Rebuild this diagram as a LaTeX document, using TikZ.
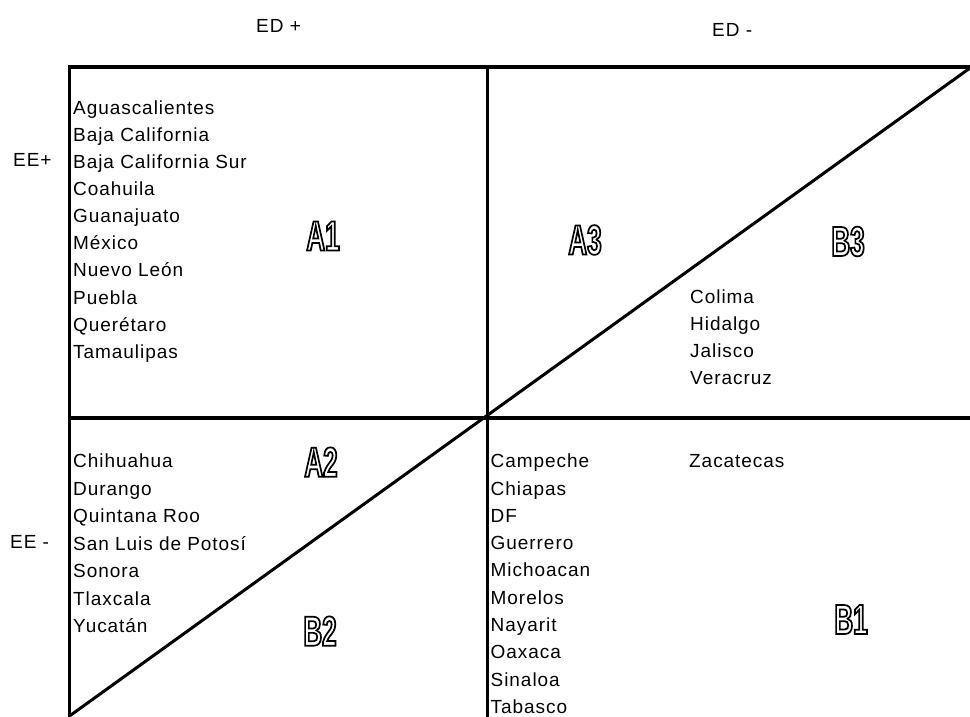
\documentclass[tikz,border=0pt]{standalone}
\usepackage{fontspec}
\setmainfont{Liberation Sans}[LetterSpace=5]
\newfontfamily\labfont{Liberation Sans Bold}[FakeStretch=0.62]
\newcommand\outlbl[1]{%
  \special{pdf:literal direct 1 Tr 1.7 w 0 G}%
  {\labfont #1}%
  \special{pdf:literal direct 0 Tr 0.4 w}}
\tikzset{
  st/.style={anchor=base west, inner sep=0pt, font=\fontsize{19}{22}\selectfont},
  lbl/.style={inner sep=0pt, font=\fontsize{42}{42}\selectfont},
  frame/.style={line width=3.6pt},
  vline/.style={line width=2.8pt},
  diag/.style={line width=3pt}
}
\begin{document}
\begin{tikzpicture}[x=1pt,y=-1pt]
\useasboundingbox (0,0) rectangle (970,717);
% frame coordinates
\coordinate (TL) at (69.5,67);
\coordinate (TR) at (970,67);
\coordinate (TM) at (487.5,67);
\coordinate (BL) at (69.5,717);
\coordinate (BM) at (487.5,717);
\coordinate (ML) at (69.5,418);
\coordinate (MR) at (970,418);
\coordinate (DTR) at (970,68);
\coordinate (DBL) at (69.5,716);
\draw[frame] (TL) -- (TR);
\draw[frame] (ML) -- (MR);
\draw[vline] ([yshift=1.8pt]TL) -- (BL);
\draw[vline] ([yshift=1.8pt]TM) -- (BM);
\draw[diag] (DBL) -- (DTR);
% axis labels
\node[st] (edp) at (256,33) {ED +};
\node[st] (edm) at (712,37) {ED -};
\node[st] (eep) at (13,166.7) {EE+};
\node[st] (eem) at (10,548.3) {EE -};
% upper left
\foreach \t [count=\i] in {Aguascalientes,Baja California,Baja California Sur,Coahuila,Guanajuato,México,Nuevo León,Puebla,Querétaro,Tamaulipas}
  \node[st] (ul\i) at (73,114.3+27.1*\i-27.1) {\t};
% upper right
\foreach \t [count=\i] in {Colima,Hidalgo,Jalisco,Veracruz}
  \node[st] (ur\i) at (690,303.3+27.2*\i-27.2) {\t};
% lower left
\foreach \t [count=\i] in {Chihuahua,Durango,Quintana Roo,San Luis de Potosí,Sonora,Tlaxcala,Yucatán}
  \node[st] (ll\i) at (73,467.7+27.5*\i-27.5) {\t};
% lower right
\foreach \t [count=\i] in {Campeche,Chiapas,DF,Guerrero,Michoacan,Morelos,Nayarit,Oaxaca,Sinaloa,Tabasco}
  \node[st] (lr\i) at (490.5,467.7+27.3*\i-27.3) {\t};
\node[st] (zac) at (689,467.7) {Zacatecas};
% region labels
\node[lbl] (A1) at (323,236) {\outlbl{A1}};
\node[lbl] (A3) at (585,240) {\outlbl{A3}};
\node[lbl] (B3) at (848,241.5) {\outlbl{B3}};
\node[lbl] (A2) at (321,462) {\outlbl{A2}};
\node[lbl] (B2) at (320,631) {\outlbl{B2}};
\node[lbl] (B1) at (851,619.5) {\outlbl{B1}};
\end{tikzpicture}
\end{document}
